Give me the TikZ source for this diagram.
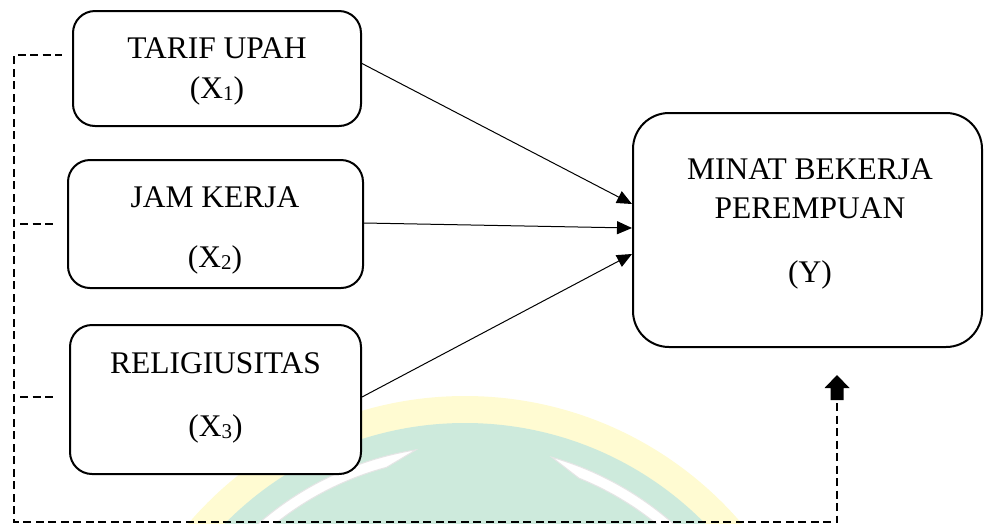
\documentclass[tikz,border=0pt]{standalone}
\usepackage{fontspec}
\setmainfont{Liberation Serif}
\usetikzlibrary{arrows.meta,calc}
\definecolor{wmyellow}{RGB}{255,251,210}
\definecolor{wmgreen}{RGB}{205,234,220}
\newcommand{\mysub}[1]{\raisebox{-2pt}{\fontsize{21}{21}\selectfont #1}}
\begin{document}
\begin{tikzpicture}[x=1pt,y=-1pt,
  box/.style={draw=black, line width=2pt, fill=white, rounded corners=22pt, inner sep=0pt},
  lbl/.style={anchor=base, inner sep=0pt, font=\fontsize{31.5}{38}\selectfont},
  link/.style={line width=1pt, -{Triangle[length=15pt,width=13pt]}},
  dashline/.style={line width=2pt, dash pattern=on 8pt off 4.5pt},
  wmarc/.style={fill=white, draw=black!10, line width=1pt}]
\useasboundingbox (0,0) rectangle (984,523);
% watermark
\begin{scope}
\clip (0,0) rectangle (984,523);
\begin{scope}[shift={(465,760)}, y=1pt]
\fill[wmyellow] (0,0) circle[radius=364];
\fill[wmgreen] (0,0) circle[radius=337];
\filldraw[wmarc] (99:314) arc[start angle=99, end angle=145, radius=314] -- (145:303) arc[start angle=145, end angle=105, radius=303] -- cycle;
\filldraw[wmarc] (74:315) arc[start angle=74, end angle=35, radius=315] -- (35:304) arc[start angle=35, end angle=68, radius=304] -- cycle;
\end{scope}
\end{scope}
% dashed frame
\coordinate (d1) at (62,55);
\coordinate (lt) at (14,55);
\coordinate (lb) at (14,522);
\coordinate (rb) at (837,522);
\coordinate (rt) at (837,403);
\coordinate (m2a) at (20,224);
\coordinate (m2b) at (57,224);
\coordinate (m3a) at (20,397);
\coordinate (m3b) at (57,397);
\draw[dashline] (rt) -- (rb) -- (lb) -- (lt) -- (d1);
\draw[dashline] (m2a) -- (m2b);
\draw[dashline] (m3a) -- (m3b);
\fill (837,375) -- (849.5,388) -- (843.5,388) -- (843.5,400) -- (830.5,400) -- (830.5,388) -- (824.5,388) -- cycle;
% boxes
\node[box, minimum width=288pt, minimum height=115pt] (b1) at (217,68.5) {};
\node[box, minimum width=295pt, minimum height=128pt] (b2) at (215.5,224) {};
\node[box, minimum width=291pt, minimum height=149pt] (b3) at (215.5,399.5) {};
\node[box, rounded corners=36pt, minimum width=349pt, minimum height=234pt] (by) at (807.5,230) {};
% arrows
\draw[link] ([yshift=5pt]b1.east) -- ([yshift=26pt]by.west);
\draw[link] ([yshift=1pt]b2.east) -- ([yshift=2pt]by.west);
\draw[link] ([yshift=2.5pt]b3.east) -- ([yshift=-24pt]by.west);
% texts
\node[lbl] (t1a) at (217,58) {TARIF UPAH};
\node[lbl] (t1b) at (217,98) {(X\mysub{1})};
\node[lbl] (t2a) at (215,207) {JAM KERJA};
\node[lbl] (t2b) at (215,267) {(X\mysub{2})};
\node[lbl] (t3a) at (215.5,373) {RELIGIUSITAS};
\node[lbl] (t3b) at (215.5,436) {(X\mysub{3})};
\node[lbl] (ya) at (810,179) {MINAT BEKERJA};
\node[lbl] (yb) at (810,218) {PEREMPUAN};
\node[lbl] (yc) at (810,282) {(Y)};
\end{tikzpicture}
\end{document}
